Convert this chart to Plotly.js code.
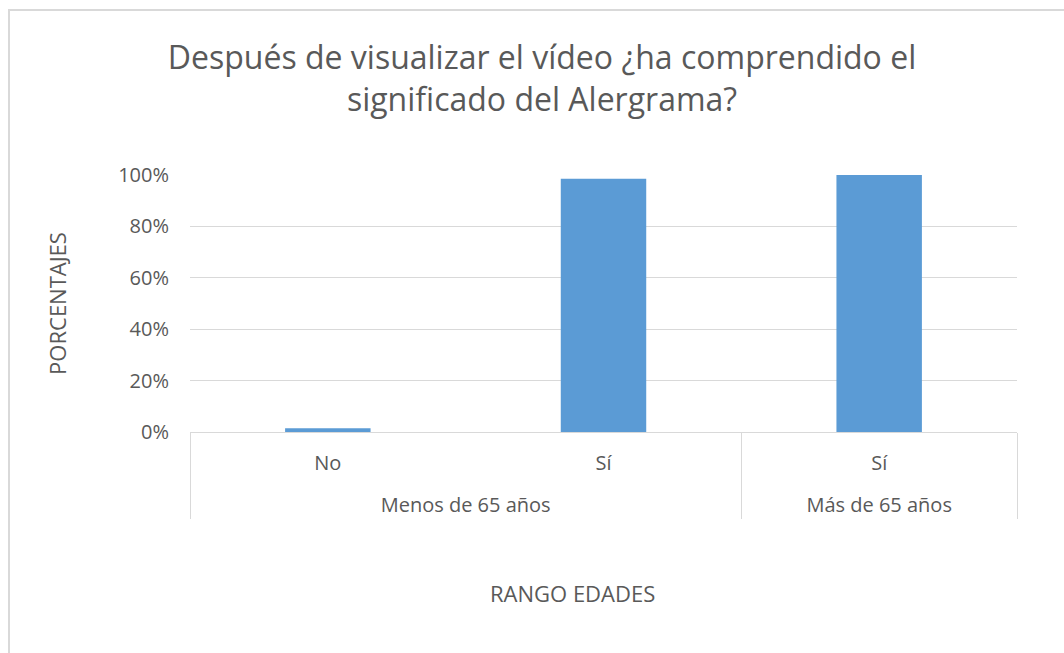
<!DOCTYPE html>
<html>
<head>
<meta charset="utf-8">
<script src="https://cdn.plot.ly/plotly-3.0.1.min.js"></script>
<style>
  html, body { margin: 0; padding: 0; background: #ffffff; overflow: hidden; }
  #wrap { position: relative; width: 1064px; height: 653px; }
  #chart { position: absolute; left: 0; top: 0; width: 1064px; height: 653px; }
  #frame { position: absolute; left: 8px; top: 9px; width: 1100px; height: 700px;
           border: 2px solid #d9d9d9; box-sizing: border-box; pointer-events: none; }
</style>
</head>
<body>
<div id="wrap">
  <div id="chart"></div>
  <div id="frame"></div>
</div>
<script>
// ---- data ----
const groups = ["Menos de 65 años", "Menos de 65 años", "Más de 65 años"];
const answers = ["No", "Sí", "Sí"];
const percentages = [0.015, 0.985, 1.0];
const yTickVals = [0, 0.2, 0.4, 0.6, 0.8, 1.0];
const titleText = "Después de visualizar el vídeo ¿ha comprendido el<br>significado del Alergrama?";
const xTitleText = "RANGO EDADES";
const yTitleText = "PORCENTAJES";

const FONT = "Open Sans, Liberation Sans, sans-serif";
const TXT = "#595959";

// group labels are pushed one line lower so they sit below the answer labels
const groupLabels = groups.map(g => "<br>" + g);

const trace = {
  type: "bar",
  x: [groupLabels, answers],
  y: percentages,
  marker: { color: "#5b9bd5" },
  hoverinfo: "none"
};

const layout = {
  width: 1064,
  height: 653,
  paper_bgcolor: "#ffffff",
  plot_bgcolor: "#ffffff",
  margin: { l: 190, r: 47, t: 175, b: 221 },
  bargap: 0.69,
  showlegend: false,
  font: { family: FONT, color: TXT, size: 20 },
  title: {
    text: titleText,
    x: 542 / 1064,
    xanchor: "center",
    xref: "container",
    y: 1 - 69 / 653,
    yanchor: "middle",
    yref: "container",
    font: { family: FONT, size: 32, color: TXT }
  },
  xaxis: {
    type: "multicategory",
    range: [-0.5, 2.5],
    showline: true,
    linecolor: "#d9d9d9",
    linewidth: 1,
    showgrid: false,
    zeroline: false,
    ticks: "",
    ticklabelstandoff: 13,
    showdividers: true,
    dividercolor: "#d9d9d9",
    dividerwidth: 1,
    tickfont: { family: FONT, size: 20, color: TXT },
    fixedrange: true
  },
  yaxis: {
    range: [0, 1],
    tickvals: yTickVals,
    tickformat: ".0%",
    showgrid: true,
    gridcolor: "#d9d9d9",
    gridwidth: 1,
    zeroline: false,
    showline: false,
    ticks: "outside",
    ticklen: 16,
    tickcolor: "rgba(0,0,0,0)",
    tickfont: { family: FONT, size: 20, color: TXT },
    title: { text: yTitleText, standoff: 45, font: { family: FONT, size: 22, color: TXT } },
    fixedrange: true
  },
  annotations: [
    {
      text: xTitleText,
      xref: "paper", yref: "paper",
      x: (572 - 190) / 827, y: (432 - 593) / 257,
      xanchor: "center", yanchor: "middle",
      showarrow: false,
      font: { family: FONT, size: 22, color: TXT }
    }
  ]
};

Plotly.newPlot("chart", [trace], layout, { staticPlot: true, displayModeBar: false });
</script>
</body>
</html>
